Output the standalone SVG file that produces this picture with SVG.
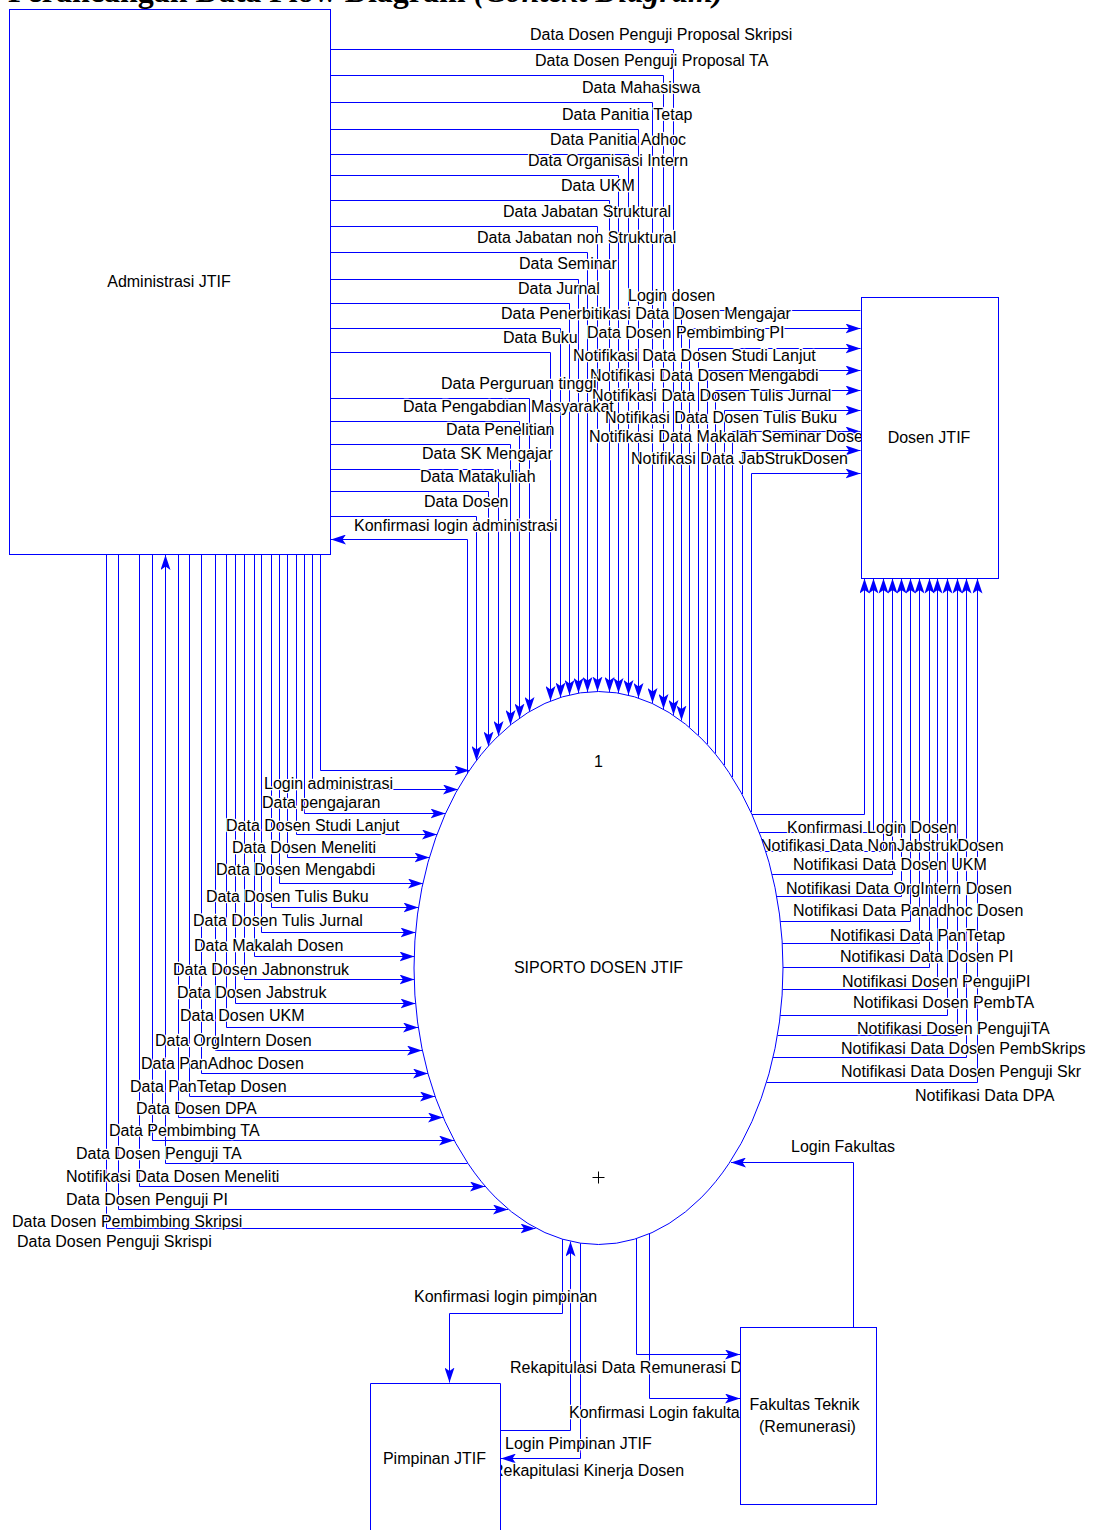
<svg xmlns="http://www.w3.org/2000/svg" width="1093" height="1530" viewBox="0 0 1093 1530">
<style>
.ln{fill:none;stroke:#0000ff;stroke-width:1}
.ar{marker-end:url(#ah)}
.t{font-family:"Liberation Sans",Arial,sans-serif;font-size:16px;fill:#000}
.h{paint-order:stroke;stroke:#fff;stroke-width:2.5px;stroke-linejoin:round}
.box{fill:#fff;stroke:#0000ff;stroke-width:1}
.mid{text-anchor:middle}
</style>
<defs>
<marker id="ah" viewBox="0 0 15 10" refX="15" refY="5" markerWidth="15" markerHeight="10" markerUnits="userSpaceOnUse" orient="auto"><path d="M0,0 L15,5 L0,10 L3.5,5 Z" fill="#0000ff"/></marker>
</defs>
<rect width="1093" height="1530" fill="#fff"/>
<text x="8" y="2" style="font-family:'Liberation Serif','Times New Roman',serif;font-size:32px;font-weight:bold;fill:#000">Perancangan Data Flow Diagram <tspan font-style="italic">(Context Diagram)</tspan></text>

<g id="connectors">
<!-- Administrasi -> Proses (top) -->
<path class="ln ar" d="M330.5,49.5 H673.5 V715"/>
<path class="ln ar" d="M330.5,75.5 H663.5 V709"/>
<path class="ln ar" d="M330.5,102.5 H652.5 V703"/>
<path class="ln ar" d="M330.5,129.5 H638.5 V698"/>
<path class="ln ar" d="M330.5,154.5 H628.5 V695"/>
<path class="ln ar" d="M330.5,175.5 H618.5 V693"/>
<path class="ln ar" d="M330.5,200.5 H609.5 V692"/>
<path class="ln ar" d="M330.5,226.5 H597.5 V691.5"/>
<path class="ln ar" d="M330.5,252.5 H587.5 V692"/>
<path class="ln ar" d="M330.5,279.5 H578.5 V693"/>
<path class="ln ar" d="M330.5,303.5 H569.5 V695"/>
<path class="ln ar" d="M330.5,328.5 H560.5 V697.5"/>
<path class="ln ar" d="M330.5,352.5 H550.5 V701"/>
<path class="ln ar" d="M330.5,398.5 H529.5 V712"/>
<path class="ln ar" d="M330.5,421.5 H519.5 V718.5"/>
<path class="ln ar" d="M330.5,444.5 H510.5 V725"/>
<path class="ln ar" d="M330.5,469.5 H498.5 V736"/>
<path class="ln ar" d="M330.5,491.5 H488.5 V746.5"/>
<path class="ln ar" d="M330.5,516.5 H476.5 V761"/>
<path class="ln ar" d="M467.5,774 V539.5 H331"/>
<!-- Dosen <-> Proses -->
<path class="ln ar" d="M860.5,310.5 H681.5 V720.5"/>
<path class="ln ar" d="M689.5,727 V328.5 H860.5"/>
<path class="ln ar" d="M698.5,735 V348.5 H860.5"/>
<path class="ln ar" d="M707.5,744 V370.5 H860.5"/>
<path class="ln ar" d="M715.5,753.5 V390.5 H860.5"/>
<path class="ln ar" d="M724.5,765 V410.5 H860.5"/>
<path class="ln ar" d="M732.5,777 V431.5 H860.5"/>
<path class="ln ar" d="M742.5,794 V450.5 H860.5"/>
<path class="ln ar" d="M751.5,812 V473.5 H860.5"/>
<path class="ln ar" d="M751.7,814.5 H864.5 V578.5"/>
<path class="ln ar" d="M759,832.5 H873.5 V578.5"/>
<path class="ln ar" d="M765.5,851.5 H883.5 V578.5"/>
<path class="ln ar" d="M772,874.5 H892.5 V578.5"/>
<path class="ln ar" d="M776.5,896.5 H901.5 V578.5"/>
<path class="ln ar" d="M780,921.5 H910.5 V578.5"/>
<path class="ln ar" d="M782,943.5 H919.5 V578.5"/>
<path class="ln ar" d="M783,967.5 H929.5 V578.5"/>
<path class="ln ar" d="M782.5,989.5 H937.5 V578.5"/>
<path class="ln ar" d="M780,1015.5 H947.5 V578.5"/>
<path class="ln ar" d="M777.5,1035.5 H957.5 V578.5"/>
<path class="ln ar" d="M773,1057.5 H966.5 V578.5"/>
<path class="ln ar" d="M766.5,1082.5 H977.5 V578.5"/>
<!-- Administrasi -> Proses (left) -->
<path class="ln ar" d="M320.5,554.5 V770.5 H469.5"/>
<path class="ln ar" d="M312.5,554.5 V789.5 H458"/>
<path class="ln ar" d="M304.5,554.5 V813.5 H445.5"/>
<path class="ln ar" d="M296.5,554.5 V834.5 H437"/>
<path class="ln ar" d="M287.5,554.5 V857.5 H429.5"/>
<path class="ln ar" d="M279.5,554.5 V883.5 H423"/>
<path class="ln ar" d="M271.5,554.5 V907.5 H418.5"/>
<path class="ln ar" d="M261.5,554.5 V932.5 H415.5"/>
<path class="ln ar" d="M254.5,554.5 V956.5 H414.5"/>
<path class="ln ar" d="M244.5,554.5 V979.5 H414.5"/>
<path class="ln ar" d="M235.5,554.5 V1003.5 H415.5"/>
<path class="ln ar" d="M226.5,554.5 V1027.5 H418"/>
<path class="ln ar" d="M215.5,554.5 V1050.5 H422"/>
<path class="ln ar" d="M201.5,554.5 V1073.5 H428"/>
<path class="ln ar" d="M189.5,554.5 V1096.5 H435"/>
<path class="ln ar" d="M178.5,554.5 V1117.5 H443"/>
<path class="ln ar" d="M152.5,554.5 V1140.5 H454"/>
<path class="ln ar" d="M467.5,1163.5 H165.5 V555"/>
<path class="ln ar" d="M139.5,554.5 V1186.5 H485"/>
<path class="ln ar" d="M118.5,554.5 V1209.5 H508"/>
<path class="ln ar" d="M106.5,554.5 V1228.5 H535.5"/>
<!-- bottom -->
<path class="ln ar" d="M853.5,1327 V1162.5 H731"/>
<path class="ln ar" d="M562.5,1239 V1313.5 H449.5 V1382.5"/>
<path class="ln ar" d="M500.5,1430.5 H570.5 V1241.5"/>
<path class="ln ar" d="M580.5,1243 V1458.5 H501"/>
<path class="ln ar" d="M636.5,1238.5 V1354.5 H740"/>
<path class="ln ar" d="M649.5,1234 V1398.5 H740"/>
</g>

<g id="flow-labels" class="t">
<text class="h" x="530" y="39.5">Data Dosen Penguji Proposal Skripsi</text>
<text class="h" x="535" y="65.5">Data Dosen Penguji Proposal TA</text>
<text class="h" x="582" y="92.5">Data Mahasiswa</text>
<text class="h" x="562" y="119.5">Data Panitia Tetap</text>
<text class="h" x="550" y="144.5">Data Panitia Adhoc</text>
<text class="h" x="528" y="165.5">Data Organisasi Intern</text>
<text class="h" x="561" y="190.5">Data UKM</text>
<text class="h" x="503" y="216.5">Data Jabatan Struktural</text>
<text class="h" x="477" y="242.5">Data Jabatan non Struktural</text>
<text class="h" x="519" y="268.5">Data Seminar</text>
<text class="h" x="518" y="293.5">Data Jurnal</text>
<text class="h" x="628" y="300.5">Login dosen</text>
<text class="h" x="501" y="318.5">Data Penerbitikasi Data Dosen Mengajar</text>
<text class="h" x="587" y="337.5">Data Dosen Pembimbing PI</text>
<text class="h" x="503" y="342.5">Data Buku</text>
<text class="h" x="573" y="360.5">Notifikasi Data Dosen Studi Lanjut</text>
<text class="h" x="590" y="380.5">Notifikasi Data Dosen Mengabdi</text>
<text class="h" x="441" y="388.5">Data Perguruan tinggi</text>
<text class="h" x="592" y="400.5">Notifikasi Data Dosen Tulis Jurnal</text>
<text class="h" x="403" y="411.5">Data Pengabdian Masyarakat</text>
<text class="h" x="605" y="422.5">Notifikasi Data Dosen Tulis Buku</text>
<text class="h" x="446" y="434.5">Data Penelitian</text>
<text class="h" x="589" y="441.5">Notifikasi Data Makalah Seminar Dosen</text>
<text class="h" x="422" y="458.5">Data SK Mengajar</text>
<text class="h" x="631" y="463.5">Notifikasi Data JabStrukDosen</text>
<text class="h" x="420" y="481.5">Data Matakuliah</text>
<text class="h" x="424" y="506.5">Data Dosen</text>
<text class="h" x="354" y="530.5">Konfirmasi login administrasi</text>

<text class="h" x="264" y="788.5">Login administrasi</text>
<text class="h" x="262" y="807.5">Data pengajaran</text>
<text class="h" x="226" y="830.5">Data Dosen Studi Lanjut</text>
<text class="h" x="232" y="852.5">Data Dosen Meneliti</text>
<text class="h" x="216" y="874.5">Data Dosen Mengabdi</text>
<text class="h" x="206" y="901.5">Data Dosen Tulis Buku</text>
<text class="h" x="193" y="925.5">Data Dosen Tulis Jurnal</text>
<text class="h" x="194" y="950.5">Data Makalah Dosen</text>
<text class="h" x="173" y="974.5">Data Dosen Jabnonstruk</text>
<text class="h" x="177" y="997.5">Data Dosen Jabstruk</text>
<text class="h" x="180" y="1020.5">Data Dosen UKM</text>
<text class="h" x="155" y="1045.5">Data OrgIntern Dosen</text>
<text class="h" x="141" y="1068.5">Data PanAdhoc Dosen</text>
<text class="h" x="130" y="1091.5">Data PanTetap Dosen</text>
<text class="h" x="136" y="1113.5">Data Dosen DPA</text>
<text class="h" x="109" y="1135.5">Data Pembimbing TA</text>
<text class="h" x="76" y="1158.5">Data Dosen Penguji TA</text>
<text class="h" x="66" y="1181.5">Notifikasi Data Dosen Meneliti</text>
<text class="h" x="66" y="1204.5">Data Dosen Penguji PI</text>
<text class="h" x="12" y="1226.5">Data Dosen Pembimbing Skripsi</text>
<text class="h" x="17" y="1246.5">Data Dosen Penguji Skrispi</text>

<text class="h" x="787" y="832.5">Konfirmasi Login Dosen</text>
<text class="h" x="760" y="850.5">Notifikasi Data NonJabstrukDosen</text>
<text class="h" x="793" y="869.5">Notifikasi Data Dosen UKM</text>
<text class="h" x="786" y="893.5">Notifikasi Data OrgIntern Dosen</text>
<text class="h" x="793" y="915.5">Notifikasi Data Panadhoc Dosen</text>
<text class="h" x="830" y="940.5">Notifikasi Data PanTetap</text>
<text class="h" x="840" y="961.5">Notifikasi Data Dosen PI</text>
<text class="h" x="842" y="986.5">Notifikasi Dosen PengujiPI</text>
<text class="h" x="853" y="1007.5">Notifikasi Dosen PembTA</text>
<text class="h" x="857" y="1033.5">Notifikasi Dosen PengujiTA</text>
<text class="h" x="841" y="1053.5">Notifikasi Data Dosen PembSkrips</text>
<text class="h" x="841" y="1076.5">Notifikasi Data Dosen Penguji Skr</text>
<text class="h" x="915" y="1100.5">Notifikasi Data DPA</text>

<text class="h" x="791" y="1151.5">Login Fakultas</text>
<text class="h" x="414" y="1301.5">Konfirmasi login pimpinan</text>
<text class="h" x="510" y="1372.5">Rekapitulasi Data Remunerasi Dosen</text>
<text class="h" x="569" y="1417.5">Konfirmasi Login fakultas</text>
<text class="h" x="505" y="1448.5">Login Pimpinan JTIF</text>
<text class="h" x="492" y="1475.5">Rekapitulasi Kinerja Dosen</text>
</g>

<g id="administrasi-jtif">
<rect class="box" x="9.5" y="9.5" width="321" height="545"/>
<text class="t mid" x="169" y="286.5">Administrasi JTIF</text>
</g>
<g id="dosen-jtif">
<rect class="box" x="861.5" y="297.5" width="137" height="281"/>
<text class="t mid" x="929" y="442.5">Dosen JTIF</text>
</g>
<g id="siporto">
<ellipse class="box" cx="598.5" cy="968" rx="184.5" ry="276.5"/>
<text class="t mid" x="598.5" y="766.5">1</text>
<text class="t mid" x="598.5" y="972.5">SIPORTO DOSEN JTIF</text>
<path d="M592.5,1177.5 H604.5 M598.5,1171.5 V1183.5" fill="none" stroke="#000" stroke-width="1"/>
</g>
<g id="pimpinan-jtif">
<path class="box" d="M370.5,1531 V1383.5 H500.5 V1531"/>
<text class="t mid" x="434.5" y="1463.5">Pimpinan JTIF</text>
</g>
<g id="fakultas-teknik">
<rect class="box" x="740.5" y="1327.5" width="136" height="177"/>
<text class="t mid" x="804.5" y="1409.5">Fakultas Teknik</text>
<text class="t mid" x="807.5" y="1431.5">(Remunerasi)</text>
</g>
</svg>
